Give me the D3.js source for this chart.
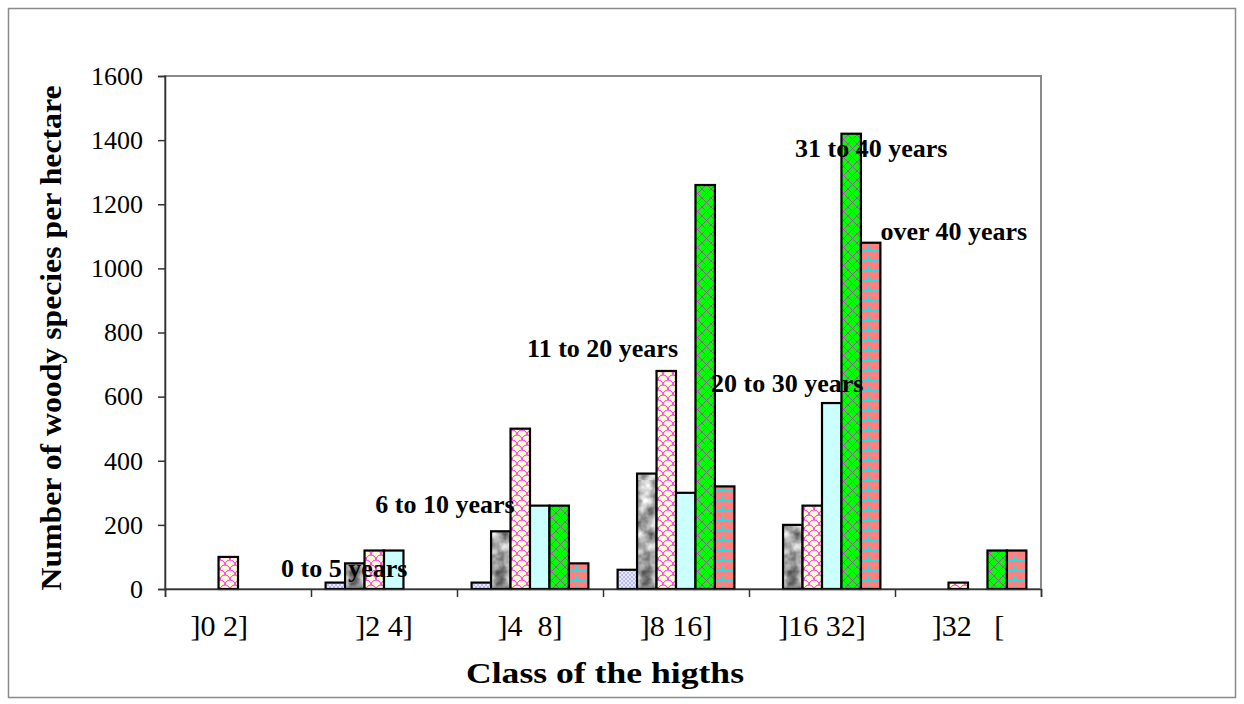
<!DOCTYPE html>
<html>
<head>
<meta charset="utf-8">
<script src="https://cdn.jsdelivr.net/npm/d3@7"></script>
<style>
  body { margin: 0; background: #fff; }
  svg { display: block; font-family: "Liberation Serif", "Times New Roman", serif; }
  text { white-space: pre; }
</style>
</head>
<body>
<svg id="chart" width="1244" height="704"></svg>
<script>
// height classes and series
const categories = ["]0 2]     ", "]2 4]", "]4  8]", "]8 16]", "]16 32]", "]32   ["];
const seriesNames = ["0 to 5 years", "6 to 10 years", "11 to 20 years", "20 to 30 years", "31 to 40 years", "over 40 years"];
const age0to5 = [0, 20, 20, 60, 0, 0];
const age6to10 = [0, 80, 180, 360, 200, 0];
const age11to20 = [100, 120, 500, 680, 260, 20];
const age20to30 = [0, 120, 260, 300, 580, 0];
const age31to40 = [0, 0, 260, 1260, 1420, 120];
const ageOver40 = [0, 0, 80, 320, 1080, 120];
const yTicks = [0, 200, 400, 600, 800, 1000, 1200, 1400, 1600];

// where the series names sit (category units, value units)
const labelSpots = [
    { name: "0 to 5 years", cat: 0.795, val: 37 },
    { name: "6 to 10 years", cat: 1.44, val: 237 },
    { name: "11 to 20 years", cat: 2.48, val: 724 },
    { name: "20 to 30 years", cat: 3.74, val: 614 },
    { name: "31 to 40 years", cat: 4.315, val: 1347 },
    { name: "over 40 years", cat: 4.9, val: 1089 }
];

let allSeries = [age0to5, age6to10, age11to20, age20to30, age31to40, ageOver40];

let svg = d3.select("#chart");
let plotLeft = 165, plotRight = 1041, plotTop = 76, plotBottom = 589;

// outer frame
svg.append("rect")
    .attr("x", 8.5).attr("y", 8.5)
    .attr("width", 1227).attr("height", 689)
    .attr("fill", "none").attr("stroke", "#8a8a8a").attr("stroke-width", 1.5);

// Patterns for the bar fills.
let defs = svg.append("defs");

let p0 = defs.append("pattern").attr("id", "fill0").attr("patternUnits", "userSpaceOnUse")
    .attr("width", 4).attr("height", 4);
p0.append("rect").attr("width", 4).attr("height", 4).attr("fill", "#e8e8ff");
p0.append("circle").attr("cx", 1).attr("cy", 1).attr("r", 0.8).attr("fill", "#8080f0");
p0.append("circle").attr("cx", 3).attr("cy", 3).attr("r", 0.8).attr("fill", "#8080f0");

// grey marble texture
let marble = defs.append("filter").attr("id", "marble")
    .attr("x", 0).attr("y", 0).attr("width", 1).attr("height", 1)
    .attr("color-interpolation-filters", "sRGB");
marble.append("feTurbulence").attr("type", "fractalNoise").attr("baseFrequency", 0.08)
    .attr("numOctaves", 3).attr("seed", 4);
marble.append("feColorMatrix").attr("type", "matrix")
    .attr("values", "1.0 0 0 0 0.17  1.0 0 0 0 0.17  1.0 0 0 0 0.17  0 0 0 0 1");
let p1 = defs.append("pattern").attr("id", "fill1").attr("patternUnits", "userSpaceOnUse")
    .attr("width", 120).attr("height", 120);
p1.append("rect").attr("width", 120).attr("height", 120).attr("filter", "url(#marble)");

let p2 = defs.append("pattern").attr("id", "fill2").attr("patternUnits", "userSpaceOnUse")
    .attr("width", 10).attr("height", 10);
p2.append("rect").attr("width", 10).attr("height", 10).attr("fill", "#ffffcc");
p2.append("path")
    .attr("d", "M0,5 A5,5 0 0 1 10,5 M-5,10 A5,5 0 0 1 5,10 M5,10 A5,5 0 0 1 15,10 M-5,0 A5,5 0 0 1 5,0 M5,0 A5,5 0 0 1 15,0")
    .attr("fill", "none").attr("stroke", "#ff00ff").attr("stroke-width", 0.9);

let p4 = defs.append("pattern").attr("id", "fill4").attr("patternUnits", "userSpaceOnUse")
    .attr("width", 9).attr("height", 9);
p4.append("rect").attr("width", 9).attr("height", 9).attr("fill", "#00ff00");
p4.append("path").attr("d", "M0,0 L9,9 M9,0 L0,9")
    .attr("stroke", "#9a5a9a").attr("stroke-width", 1);

let p5 = defs.append("pattern").attr("id", "fill5").attr("patternUnits", "userSpaceOnUse")
    .attr("width", 14).attr("height", 10);
p5.append("rect").attr("width", 14).attr("height", 10).attr("fill", "#ff8080");
p5.append("path").attr("d", "M0,0.5 H14 M0,5.5 H14 M0.5,0 V5 M7.5,5 V10")
    .attr("stroke", "#22e0e0").attr("stroke-width", 1);

let fills = ["url(#fill0)", "url(#fill1)", "url(#fill2)", "#ccffff", "url(#fill4)", "url(#fill5)"];

// Scales. Gap between groups is 1.5 bar widths, split on both sides.
let x = d3.scaleBand().domain(categories).range([plotLeft, plotRight]);
let barW = x.bandwidth() / 7.5;
let xInner = d3.scaleBand().domain(d3.range(seriesNames.length))
    .range([barW * 0.75, barW * 6.75]);
let xUnits = d3.scaleLinear().domain([0, categories.length]).range([plotLeft, plotRight]);
let y = d3.scaleLinear().domain([0, 1600]).range([plotBottom, plotTop]);

// plot area frame
svg.append("rect")
    .attr("x", plotLeft).attr("y", plotTop)
    .attr("width", plotRight - plotLeft).attr("height", plotBottom - plotTop)
    .attr("fill", "none").attr("stroke", "#8a8a8a").attr("stroke-width", 2);

// Bars.
let groups = svg.append("g").selectAll("g")
    .data(categories)
    .enter()
    .append("g")
    .attr("transform", d => "translate(" + x(d) + ",0)");

groups.selectAll("rect")
    .data((d, ci) => allSeries.map((s, si) => ({ si: si, value: s[ci] })).filter(b => b.value > 0))
    .enter()
    .append("rect")
    .attr("x", d => xInner(d.si))
    .attr("y", d => y(d.value))
    .attr("width", xInner.bandwidth())
    .attr("height", d => y(0) - y(d.value))
    .attr("fill", d => fills[d.si])
    .attr("stroke", "#000")
    .attr("stroke-width", 2.2);

// Y axis.
let yAxis = svg.append("g")
    .attr("transform", "translate(" + plotLeft + ",0)")
    .call(d3.axisLeft(y).tickValues(yTicks).tickSize(7).tickPadding(15).tickFormat(d3.format("d")));
yAxis.select(".domain").attr("stroke", "#333").attr("stroke-width", 1.5);
yAxis.selectAll(".tick line").attr("stroke", "#333").attr("stroke-width", 1.5);
yAxis.selectAll("text")
    .attr("font-family", "Liberation Serif, serif")
    .attr("font-size", 26)
    .attr("fill", "#000");

// X axis: ticks between classes, labels in the middle.
let xTickAxis = svg.append("g")
    .attr("transform", "translate(0," + plotBottom + ")")
    .call(d3.axisBottom(xUnits).tickValues(d3.range(categories.length + 1)).tickSize(8).tickFormat(""));
xTickAxis.select(".domain").attr("stroke", "#333").attr("stroke-width", 1.5);
xTickAxis.selectAll(".tick line").attr("stroke", "#333").attr("stroke-width", 1.5);

let xLabelAxis = svg.append("g")
    .attr("transform", "translate(0," + plotBottom + ")")
    .call(d3.axisBottom(x).tickSize(0).tickPadding(26));
xLabelAxis.select(".domain").remove();
xLabelAxis.selectAll("text")
    .attr("font-family", "Liberation Serif, serif")
    .attr("font-size", 30)
    .attr("fill", "#000");

// Axis titles.
svg.append("text")
    .attr("x", 605)
    .attr("y", 683)
    .attr("text-anchor", "middle")
    .attr("font-weight", "bold")
    .attr("font-size", 30)
    .attr("textLength", 278)
    .attr("lengthAdjust", "spacingAndGlyphs")
    .text("Class of the higths");

svg.append("text")
    .attr("transform", "translate(61,338) rotate(-90)")
    .attr("text-anchor", "middle")
    .attr("font-weight", "bold")
    .attr("font-size", 30)
    .attr("textLength", 505)
    .attr("lengthAdjust", "spacingAndGlyphs")
    .text("Number of woody species per hectare");

// Series names written over the bars.
svg.append("g").selectAll("text")
    .data(labelSpots)
    .enter()
    .append("text")
    .attr("x", d => xUnits(d.cat))
    .attr("y", d => y(d.val))
    .attr("font-weight", "bold")
    .attr("font-size", 26)
    .attr("fill", "#000")
    .text(d => d.name);
</script>
</body>
</html>
